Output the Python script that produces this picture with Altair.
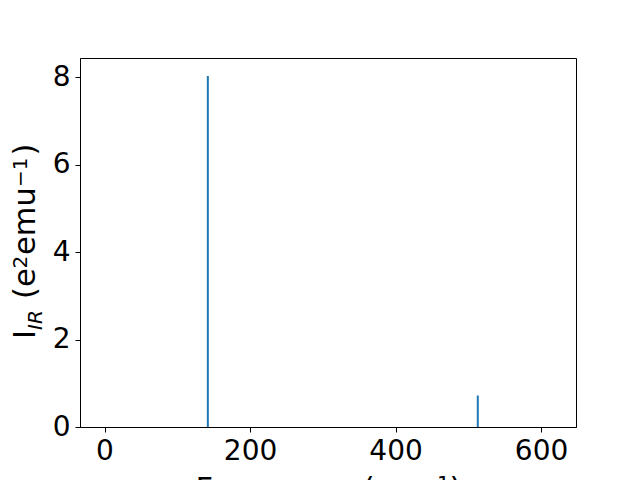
import altair as alt
import pandas as pd

# data
frequencies = [142, 513]          # cm^-1
intensities = [8.03, 0.72]        # e^2 emu^-1
x_ticks = [0, 200, 400, 600]
y_ticks = [0, 2, 4, 6, 8]
x_domain = [-33.7, 648]
y_domain = [0, 8.44]

df = pd.DataFrame({"freq": frequencies, "inten": intensities, "base": [0] * len(frequencies)})

FONT = "DejaVu Sans"
BLUE = "#1f77b4"

x_enc = alt.X("freq:Q",
              scale=alt.Scale(domain=x_domain, nice=False, zero=False),
              axis=alt.Axis(values=x_ticks, title="Frequency (cm⁻¹)", grid=False,
                            labelFontSize=28, titleFontSize=30.5, labelFont=FONT, titleFont=FONT,
                            titleFontWeight="normal", labelColor="black", titleColor="black",
                            domainColor="black", tickColor="black", tickSize=5, labelPadding=5,
                            titlePadding=9, format="d"))
y_enc = alt.Y("base:Q",
              scale=alt.Scale(domain=y_domain, nice=False, zero=True),
              axis=alt.Axis(values=y_ticks, title=None, grid=False,
                            labelFontSize=28, labelFont=FONT, labelColor="black",
                            domainColor="black", tickColor="black", tickSize=5, labelPadding=5,
                            format="d"))

bars = alt.Chart(df).mark_rule(color=BLUE, strokeWidth=2).encode(
    x=x_enc, y=y_enc, y2="inten:Q"
)

one = pd.DataFrame({"k": [0]})
OX, OY = 80, 58  # plot origin on the page, used to place the y-label pieces


def piece(text, x_abs, y_abs, size, style="normal"):
    return alt.Chart(one).mark_text(
        text=text, angle=270, align="left", baseline="alphabetic",
        font=FONT, fontSize=size, fontStyle=style, color="black"
    ).encode(x=alt.value(x_abs - OX), y=alt.value(y_abs - OY))


MAIN = 30.5
SUB = 20
label_parts = [
    piece("I", 35, 339, MAIN),
    piece("IR", 42, 330, SUB, "italic"),
    piece("(e", 35, 299, MAIN),
    piece("2", 27, 268.4, SUB),
    piece("emu", 35, 255, MAIN),
    piece("−1", 27, 187, SUB),
    piece(")", 35, 155.5, MAIN),
]

chart = alt.layer(bars, *label_parts).properties(
    width=496, height=369,
    autosize=alt.AutoSizeParams(type="none"),
    padding={"left": 72, "top": 50, "right": 48, "bottom": 70},
).configure(background="white").configure_view(stroke="black", strokeWidth=1)

chart.save("out.html", embed_options={"renderer": "svg", "actions": False})
